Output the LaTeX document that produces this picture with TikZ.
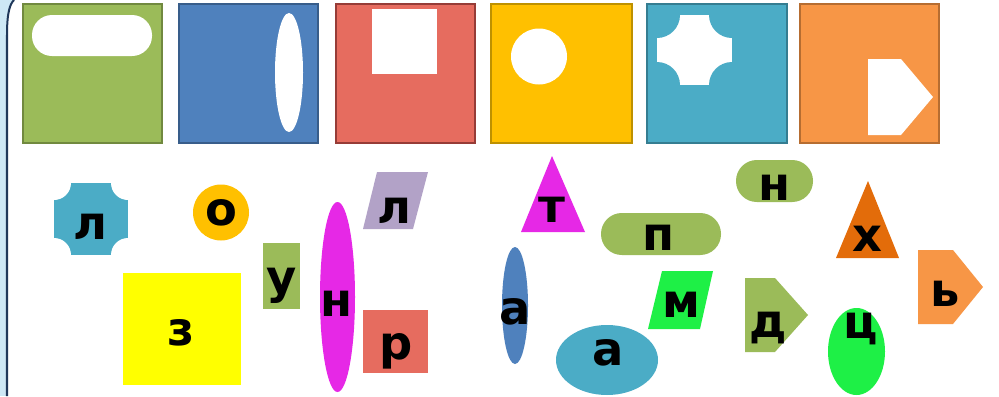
\documentclass[tikz,border=0pt]{standalone}
\usepackage{fontspec}
\setmainfont{DejaVu Sans}
\usepackage{tikz}
\usepackage{xcolor}
\definecolor{cGreen}{RGB}{155,187,89}
\definecolor{cGreenD}{RGB}{113,137,63}
\definecolor{cBlue}{RGB}{79,129,189}
\definecolor{cBlueD}{RGB}{56,93,138}
\definecolor{cRed}{RGB}{230,108,95}
\definecolor{cRedD}{RGB}{150,60,55}
\definecolor{cYellow}{RGB}{255,192,0}
\definecolor{cYellowD}{RGB}{190,145,0}
\definecolor{cTeal}{RGB}{75,172,198}
\definecolor{cTealD}{RGB}{53,125,145}
\definecolor{cOrange}{RGB}{247,150,70}
\definecolor{cOrangeD}{RGB}{182,109,49}
\definecolor{cLemon}{RGB}{255,255,0}
\definecolor{cMagenta}{RGB}{230,40,230}
\definecolor{cLilac}{RGB}{178,162,199}
\definecolor{cLime}{RGB}{30,240,70}
\definecolor{cRust}{RGB}{227,108,10}
\definecolor{cSky}{RGB}{205,232,245}
\definecolor{cFrame}{RGB}{31,56,90}
\tikzset{
	tile/.style     ={line width=0.05cm},
	hole/.style     ={fill=white},
	ltr/.style      ={inner sep=0pt, text height=18pt, text depth=0pt, font=\fontsize{33}{36}\selectfont\bfseries},
}

\begin{document}
\begin{tikzpicture}[x=0.025cm, y=-0.025cm]
	\useasboundingbox (0,0) rectangle (999,396);
	% page edge
	\fill[cSky] (0,0) rectangle (20,396);
	\fill[white] (7,396) -- (7,35) .. controls (7,12) and (10,4) .. (14,0) -- (999,0) -- (999,396) -- cycle;
	\draw[cFrame, line width=0.05cm] (7,396) -- (7,35) .. controls (7,12) and (10,4) .. (14,0);
	% top row of cards
	\draw[tile, fill=cGreen, draw=cGreenD] (23,4) rectangle (162,143);
	\fill[hole, rounded corners=0.5cm] (32,15) rectangle (152,56);
	\draw[tile, fill=cBlue, draw=cBlueD] (179,4) rectangle (318,143);
	\fill[hole] (289,72.5) ellipse [x radius=14, y radius=59.5];
	\draw[tile, fill=cRed, draw=cRedD] (336,4) rectangle (475,143);
	\fill[hole] (372,9) rectangle (437,74);
	\draw[tile, fill=cYellow, draw=cYellowD] (491,4) rectangle (632,143);
	\fill[hole] (539,56.5) circle [radius=28];
	\draw[tile, fill=cTeal, draw=cTealD] (647,4) rectangle (787,143);
	\begin{scope}
		\clip (657,15) rectangle (732,85);
		\fill[hole] (657,15) rectangle (732,85);
		\foreach \cx/\cy in {657/15, 732/15, 657/85, 732/85}
			\fill[cTeal] (\cx,\cy) circle [radius=23];
	\end{scope}
	\draw[tile, fill=cOrange, draw=cOrangeD] (800,4) rectangle (939,143);
	\fill[hole] (868,59) -- (901,59) -- (933,97) -- (901,135) -- (868,135) -- cycle;
	% loose shapes
	\begin{scope}
		\clip (54,183) rectangle (128,255);
		\fill[cTeal] (54,183) rectangle (128,255);
		\foreach \cx/\cy in {54/183, 128/183, 54/255, 128/255}
			\fill[white] (\cx,\cy) circle [radius=17];
	\end{scope}
	\fill[cYellow] (221,212.5) circle [radius=28];
	\fill[cLemon] (123,273) rectangle (241,385);
	\fill[cGreen] (263,243) rectangle (300,309);
	\fill[cMagenta] (337.5,297) ellipse [x radius=17.5, y radius=95];
	\fill[cLilac] (377,172) -- (428,172) -- (413,229) -- (363,229) -- cycle;
	\fill[cRed] (363,310) rectangle (428,373);
	\fill[cMagenta] (552,156) -- (585,232) -- (521,232) -- cycle;
	\fill[cBlue] (515,305.5) ellipse [x radius=13, y radius=58.5];
	\fill[cTeal] (607,360) ellipse [x radius=51, y radius=35];
	\fill[cGreen, rounded corners=0.52cm] (601,213) rectangle (721,255);
	\fill[cLime] (662,271) -- (713,271) -- (700,329) -- (648,329) -- cycle;
	\fill[cGreen, rounded corners=0.52cm] (736,160) rectangle (813,202);
	\fill[cGreen] (745,278) -- (775,278) -- (808,315) -- (775,352) -- (745,352) -- cycle;
	\fill[cLime] (856.5,351.5) ellipse [x radius=28.5, y radius=43.5];
	\fill[cRust] (868,181) -- (899,258) -- (836,258) -- cycle;
	\fill[cOrange] (918,250) -- (953,250) -- (983,287) -- (953,324) -- (918,324) -- cycle;
	% letters
	\node[ltr] (l1) at (90,227) {л};
	\node[ltr] (o1) at (221,213) {о};
	\node[ltr] (z1) at (181,333) {з};
	\node[ltr] (u1) at (282,281) {у};
	\node[ltr] (n1) at (337,304) {н};
	\node[ltr] (l2) at (394,211) {л};
	\node[ltr] (r1) at (396,347) {р};
	\node[ltr] (t1) at (552,210) {т};
	\node[ltr] (a1) at (515,312) {а};
	\node[ltr] (a2) at (608,353) {а};
	\node[ltr] (p1) at (659,238) {п};
	\node[ltr] (m1) at (681,305) {м};
	\node[ltr] (n2) at (775,188) {н};
	\node[ltr] (d1) at (768,325) {д};
	\node[ltr] (h1) at (867,239) {х};
	\node[ltr] (c1) at (861,326) {ц};
	\node[ltr] (s1) at (945,294) {ь};
\end{tikzpicture}
\end{document}
